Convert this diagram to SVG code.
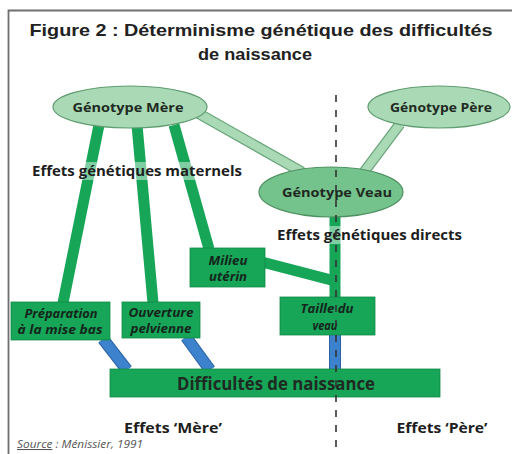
<svg xmlns="http://www.w3.org/2000/svg" width="512" height="454" viewBox="0 0 512 454">
<style>
.title{font-family:"Liberation Sans",Arial,sans-serif;font-weight:bold;font-size:17px;fill:#222;text-anchor:middle}
.ell{fill:#a9d9b5;stroke:#5f9c70;stroke-width:1.2}
.ellv{fill:#74c28c;stroke:#4f9163;stroke-width:1.2}
.etxt{font-family:"Open Sans","Noto Sans",sans-serif;font-weight:bold;font-size:13px;fill:#1f2a22;text-anchor:middle}
.box{fill:#17a558;stroke:#128a48;stroke-width:0.8}
.btxt{font-family:"Open Sans","Noto Sans",sans-serif;font-weight:bold;font-style:italic;font-size:11.5px;fill:#14261b;text-anchor:middle}
.lbl{font-family:"Open Sans","Noto Sans",sans-serif;font-weight:bold;font-size:14px;fill:#1e1e1e}
.lgo{stroke:#6aa67b;stroke-width:11;stroke-linecap:butt}
.lgi{stroke:#a9d9b5;stroke-width:8.5;stroke-linecap:butt}
.dg{stroke:#17a558;stroke-width:11;stroke-linecap:butt}
.blo{stroke:#2b62a3;stroke-width:12;stroke-linecap:butt}
.bli{stroke:#3d82cc;stroke-width:10;stroke-linecap:butt}
.dash{stroke:#333;stroke-width:1.6;stroke-dasharray:7 8}
</style>
<rect x="0" y="0" width="512" height="454" fill="#fff"/>
<path d="M8.5,454 V10.5 H512" fill="none" stroke="#6e6e6e" stroke-width="1.8"/>
<g id="title">
<text class="title" x="261" y="36" textLength="463" lengthAdjust="spacingAndGlyphs">Figure 2 : Déterminisme génétique des difficultés</text>
<text class="title" x="255" y="60" textLength="114" lengthAdjust="spacingAndGlyphs">de naissance</text>
</g>
<g id="connectors">
<line class="lgo" x1="196" y1="112" x2="302" y2="172"/>
<line class="lgi" x1="196" y1="112" x2="302" y2="172"/>
<line class="lgo" x1="400" y1="124" x2="364" y2="172"/>
<line class="lgi" x1="400" y1="124" x2="364" y2="172"/>
<line class="dg" x1="99" y1="125" x2="63" y2="303"/>
<line class="dg" x1="137" y1="125" x2="153" y2="303"/>
<line class="dg" x1="174" y1="125" x2="209" y2="249"/>
<line class="dg" x1="262" y1="262" x2="335" y2="281"/>
<line class="dg" x1="335" y1="214" x2="335" y2="298"/>
<line class="blo" x1="103" y1="339" x2="127" y2="370"/>
<line class="bli" x1="103" y1="339" x2="127" y2="370"/>
<line class="blo" x1="186" y1="337" x2="210" y2="370"/>
<line class="bli" x1="186" y1="337" x2="210" y2="370"/>
<line class="blo" x1="335" y1="334" x2="335" y2="370"/>
<line class="bli" x1="335" y1="334" x2="335" y2="370"/>
</g>
<g id="genotype-mere">
<ellipse class="ell" cx="130" cy="107" rx="77" ry="21"/>
<text class="etxt" x="128" y="112" textLength="111" lengthAdjust="spacingAndGlyphs">Génotype Mère</text>
</g>
<g id="genotype-pere">
<ellipse class="ell" cx="439" cy="107" rx="71" ry="21"/>
<text class="etxt" x="441" y="112" textLength="102" lengthAdjust="spacingAndGlyphs">Génotype Père</text>
</g>
<g id="genotype-veau">
<ellipse class="ellv" cx="331" cy="192" rx="72" ry="25"/>
<text class="etxt" x="337" y="197" textLength="110" lengthAdjust="spacingAndGlyphs">Génotype Veau</text>
</g>
<g id="label-maternels">
<rect x="31" y="162" width="213" height="18" fill="#fff" opacity="0.45"/>
<text class="lbl" x="32" y="176" textLength="210" lengthAdjust="spacingAndGlyphs">Effets génétiques maternels</text>
</g>
<g id="label-directs">
<rect x="276" y="226" width="188" height="18" fill="#fff" opacity="0.45"/>
<text class="lbl" x="277" y="240" textLength="185" lengthAdjust="spacingAndGlyphs">Effets génétiques directs</text>
</g>
<g id="milieu">
<rect class="box" x="190" y="248" width="75" height="39"/>
<text class="btxt" x="228" y="265" textLength="39" lengthAdjust="spacingAndGlyphs">Milieu</text>
<text class="btxt" x="228" y="281" textLength="38" lengthAdjust="spacingAndGlyphs">utérin</text>
</g>
<g id="preparation">
<rect class="box" x="11" y="302" width="99" height="38"/>
<text class="btxt" x="61" y="318" textLength="73" lengthAdjust="spacingAndGlyphs">Préparation</text>
<text class="btxt" x="60" y="334" textLength="85" lengthAdjust="spacingAndGlyphs">à la mise bas</text>
</g>
<g id="ouverture">
<rect class="box" x="122" y="302" width="78" height="36"/>
<text class="btxt" x="161" y="317" textLength="65" lengthAdjust="spacingAndGlyphs">Ouverture</text>
<text class="btxt" x="161" y="333" textLength="61" lengthAdjust="spacingAndGlyphs">pelvienne</text>
</g>
<g id="taille">
<rect class="box" x="280" y="297" width="95" height="38"/>
<text class="btxt" x="327" y="313" textLength="53" lengthAdjust="spacingAndGlyphs">Taille du</text>
<text class="btxt" x="325" y="330" textLength="25" lengthAdjust="spacingAndGlyphs">veau</text>
</g>
<g id="difficultes">
<rect class="box" x="110" y="369" width="330" height="28"/>
<text class="etxt" x="276" y="390" style="font-size:17px" textLength="198" lengthAdjust="spacingAndGlyphs">Difficultés de naissance</text>
</g>
<g id="divider">
<line class="dash" x1="336" y1="95" x2="336" y2="454"/>
</g>
<g id="labels">
<text class="lbl" x="173" y="433" text-anchor="middle" textLength="98" lengthAdjust="spacingAndGlyphs">Effets ‘Mère’</text>
<text class="lbl" x="442" y="433" text-anchor="middle" textLength="91" lengthAdjust="spacingAndGlyphs">Effets ‘Père’</text>
<text x="17" y="448" textLength="126" lengthAdjust="spacingAndGlyphs" style="font-family:'Open Sans',Lato,sans-serif;font-style:italic;font-size:10.5px;fill:#555"><tspan text-decoration="underline">Source</tspan> : Ménissier, 1991</text>
</g>
</svg>
